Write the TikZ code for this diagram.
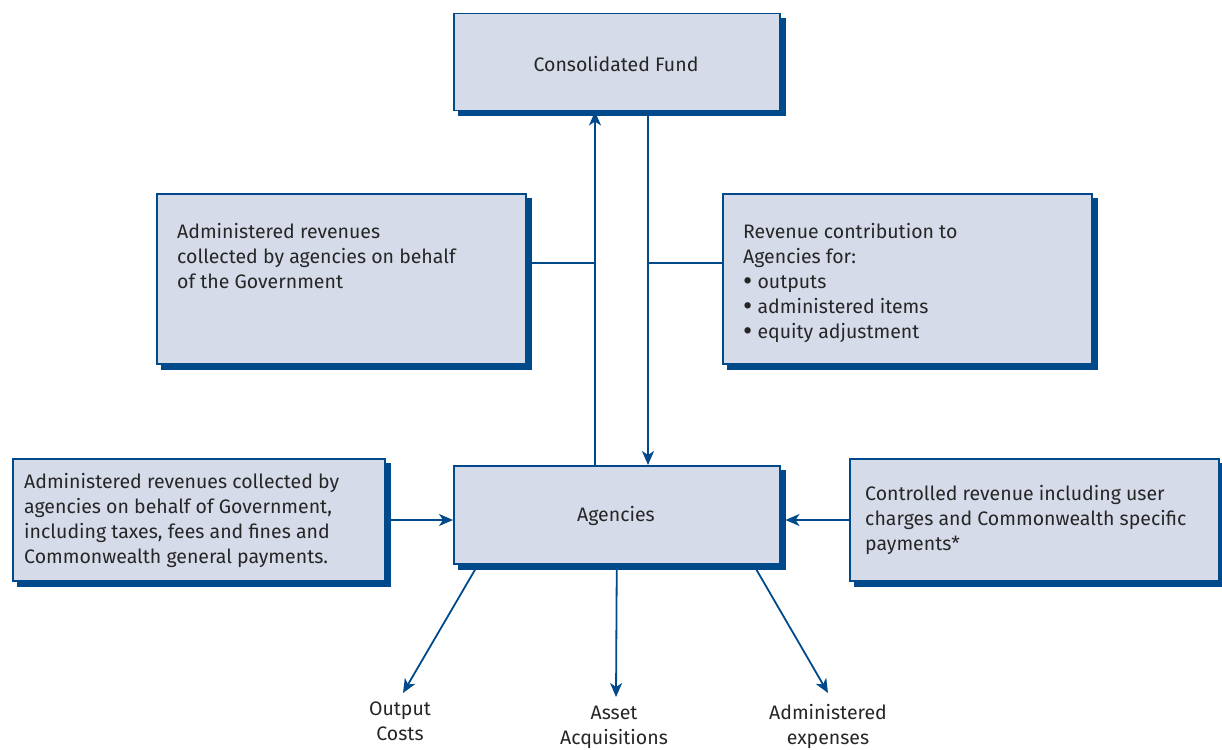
\documentclass[tikz,border=0pt]{standalone}
\usepackage{fontspec}
\usepackage{graphicx}
\setmainfont{Fira Sans}
\usetikzlibrary{arrows.meta,shadows}
\definecolor{dblue}{HTML}{00498A}
\definecolor{boxfill}{HTML}{D6DBEA}
\definecolor{txt}{HTML}{262626}
\newcommand\bigbul{\raisebox{-2pt}{\scalebox{1.45}{\textbullet}}}
\tikzset{
  box/.style={draw=dblue, line width=1.5pt, fill=boxfill, rectangle, inner sep=0pt,
    copy shadow={shadow xshift=5pt, shadow yshift=-5pt, fill=dblue, draw=dblue}},
  btext/.style={inner sep=0pt, text=txt, align=left, font=\fontsize{19.5}{25}\selectfont},
  ctext/.style={inner sep=0pt, text=txt, align=center, font=\fontsize{19.5}{25}\selectfont},
  conn/.style={draw=dblue, line width=1.8pt},
  arr/.style={conn, -{Stealth[length=14pt,width=12pt,inset=4pt]}}
}
\begin{document}
\begin{tikzpicture}[x=1pt,y=-1pt]
\useasboundingbox (0,0) rectangle (1222,749);
% boxes
\node[box, minimum width=326pt, minimum height=97pt, anchor=north west] (cf) at (453,13) {};
\node[box, minimum width=369pt, minimum height=170pt, anchor=north west] (lm) at (156,193) {};
\node[box, minimum width=369pt, minimum height=170pt, anchor=north west] (rm) at (722,193) {};
\node[box, minimum width=372pt, minimum height=122pt, anchor=north west] (lb) at (12,458) {};
\node[box, minimum width=326pt, minimum height=98pt, anchor=north west] (ag) at (453,465) {};
\node[box, minimum width=369pt, minimum height=122pt, anchor=north west] (rb) at (849,458) {};
% texts
\node[ctext, anchor=base] (cft) at (616,72) {Consolidated Fund};
\node[ctext, anchor=base] (agt) at (616,521) {Agencies};
\node[btext, anchor=north west] (lmt) at (177,223) {Administered revenues\\collected by agencies on behalf\\of the Government};
\node[btext, anchor=north west] (rmt) at (743,223) {Revenue contribution to\\Agencies for:\\\bigbul\ outputs\\\bigbul\ administered items\\\bigbul\ equity adjustment};
\node[btext, anchor=north west] (lbt) at (24,473) {Administered revenues collected by\\agencies on behalf of Government,\\including taxes, fees and fines and\\Commonwealth general payments.};
\node[btext, anchor=north west] (rbt) at (865,485) {Controlled revenue including user\\charges and Commonwealth specific\\payments*};
% bottom labels
\node[ctext, anchor=north] (oc) at (400,702) {Output\\Costs};
\node[ctext, anchor=north] (aa) at (614,706) {Asset\\Acquisitions};
\node[ctext, anchor=north] (ae) at (828,704) {Administered\\expenses};
% junction coordinates
\coordinate (j1) at (595,263);
\coordinate (j2) at (648,263);
\coordinate (j3) at (418,520);
% connectors
\draw[arr] (ag.north -| j1) -- (cf.south -| j1);
\draw[arr] (cf.south -| j2) -- (ag.north -| j2);
\draw[conn] ([xshift=5pt]lm.east |- j1) -- (j1);
\draw[conn] (rm.west |- j2) -- (j2);
\draw[arr] ([xshift=5pt]lb.east |- j3) -- (ag.west |- j3);
\draw[arr] (rb.west |- j3) -- ([xshift=5pt]ag.east |- j3);
\draw[arr] ([xshift=-141pt,yshift=-4pt]ag.south) -- ([xshift=3pt,yshift=9pt]oc.north);
\draw[arr] ([yshift=-4pt]ag.south) -- ([xshift=2pt,yshift=9pt]aa.north);
\draw[arr] ([xshift=139pt,yshift=-4pt]ag.south) -- ([yshift=11pt]ae.north);
\end{tikzpicture}
\end{document}
